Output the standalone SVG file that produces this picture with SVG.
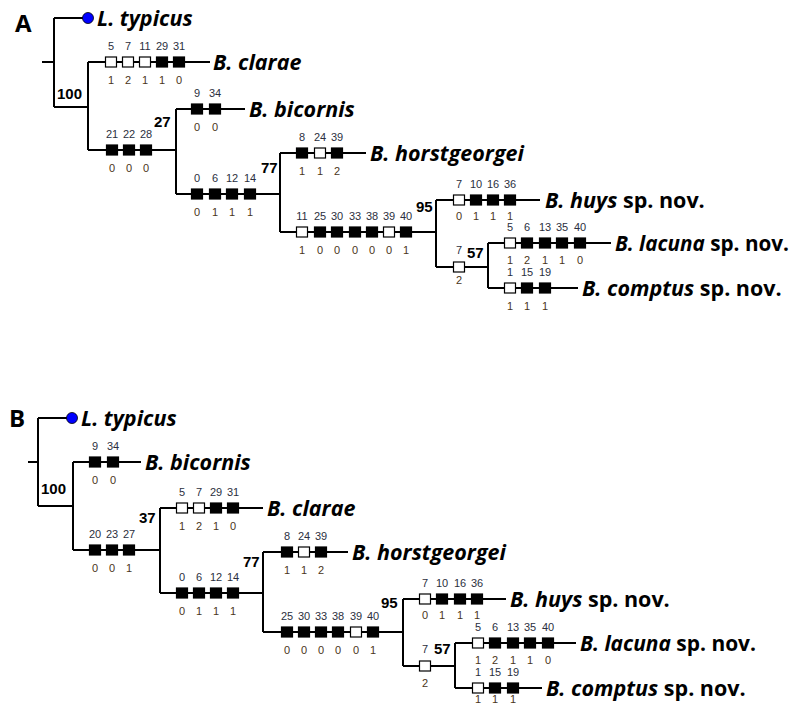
<svg xmlns="http://www.w3.org/2000/svg" width="793" height="704" viewBox="0 0 793 704">
<style>
.ln{stroke:#000;stroke-width:2;fill:none}
.o{fill:#fff;stroke:#000;stroke-width:1.2}
.f{fill:#000;stroke:#000;stroke-width:1.2}
.t{font-family:"Liberation Sans",Arial,sans-serif;font-size:11px;fill:#2b2f40;text-anchor:middle}
.b{font-family:"Liberation Sans",Arial,sans-serif;font-size:11px;fill:#4a3420;text-anchor:middle}
.sv{font-family:"Liberation Sans",Arial,sans-serif;font-size:15px;font-weight:bold;fill:#000}
.tx{font-family:"Open Sans","Noto Sans",sans-serif;font-size:21.5px;font-weight:bold;fill:#000}
.it{font-style:italic}
.pl{font-family:"Open Sans","Noto Sans",sans-serif;font-size:24px;font-weight:bold;fill:#000}
</style>
<rect width="793" height="704" fill="#fff"/>
<!-- ================= PANEL A ================= -->
<g id="panelA-label"><text class="pl" x="15" y="32">A</text></g>
<g id="connectors-A">
<path class="ln" d="M42 62H54M54 18V107M54 18H88M54 107H88M88 62V150M88 62H210M88 150H176M176 109V194M176 109H245M176 194H280M280 153V232M280 153H366M280 232H436M436 200V267M436 200H540M436 267H488M488 243V288M488 243H611M488 288H578"/>
</g>
<g id="A-typicus"><circle cx="88" cy="18" r="5.5" fill="#0000ff" stroke="#000" stroke-width="0.8"/><text class="tx" x="97" y="26"><tspan class="it">L. typicus</tspan></text></g>
<g id="A-root-support"><text class="sv" x="57" y="99">100</text></g>
<g id="A-clarae">
<rect class="o" x="105.5" y="57" width="11" height="10"/><rect class="o" x="122.5" y="57" width="11" height="10"/><rect class="o" x="139.5" y="57" width="11" height="10"/><rect class="f" x="156.5" y="57" width="11" height="10"/><rect class="f" x="173.5" y="57" width="11" height="10"/>
<text class="t" y="50"><tspan x="111">5</tspan><tspan x="128">7</tspan><tspan x="145">11</tspan><tspan x="162">29</tspan><tspan x="179">31</tspan></text>
<text class="b" y="84"><tspan x="111">1</tspan><tspan x="128">2</tspan><tspan x="145">1</tspan><tspan x="162">1</tspan><tspan x="179">0</tspan></text>
<text class="tx" x="213" y="70"><tspan class="it">B. clarae</tspan></text>
</g>
<g id="A-node27">
<rect class="f" x="106.5" y="145" width="11" height="10"/><rect class="f" x="123.5" y="145" width="11" height="10"/><rect class="f" x="140.5" y="145" width="11" height="10"/>
<text class="t" y="138"><tspan x="112">21</tspan><tspan x="129">22</tspan><tspan x="146">28</tspan></text>
<text class="b" y="172"><tspan x="112">0</tspan><tspan x="129">0</tspan><tspan x="146">0</tspan></text>
<text class="sv" x="154" y="127">27</text>
</g>
<g id="A-bicornis">
<rect class="f" x="191.5" y="104" width="11" height="10"/><rect class="f" x="209.5" y="104" width="11" height="10"/>
<text class="t" y="97"><tspan x="197">9</tspan><tspan x="215">34</tspan></text>
<text class="b" y="131"><tspan x="197">0</tspan><tspan x="215">0</tspan></text>
<text class="tx" x="249" y="117"><tspan class="it">B. bicornis</tspan></text>
</g>
<g id="A-node77">
<rect class="f" x="191.5" y="189" width="11" height="10"/><rect class="f" x="209.5" y="189" width="11" height="10"/><rect class="f" x="226.5" y="189" width="11" height="10"/><rect class="f" x="244.5" y="189" width="11" height="10"/>
<text class="t" y="182"><tspan x="197">0</tspan><tspan x="215">6</tspan><tspan x="232">12</tspan><tspan x="250">14</tspan></text>
<text class="b" y="216"><tspan x="197">0</tspan><tspan x="215">1</tspan><tspan x="232">1</tspan><tspan x="250">1</tspan></text>
<text class="sv" x="261" y="173">77</text>
</g>
<g id="A-horstgeorgei">
<rect class="f" x="296.5" y="148" width="11" height="10"/><rect class="o" x="314.5" y="148" width="11" height="10"/><rect class="f" x="331.5" y="148" width="11" height="10"/>
<text class="t" y="141"><tspan x="302">8</tspan><tspan x="320">24</tspan><tspan x="337">39</tspan></text>
<text class="b" y="175"><tspan x="302">1</tspan><tspan x="320">1</tspan><tspan x="337">2</tspan></text>
<text class="tx" x="370" y="161"><tspan class="it">B. horstgeorgei</tspan></text>
</g>
<g id="A-node95">
<rect class="o" x="296.5" y="227" width="11" height="10"/><rect class="f" x="314.5" y="227" width="11" height="10"/><rect class="f" x="331.5" y="227" width="11" height="10"/><rect class="f" x="349.5" y="227" width="11" height="10"/><rect class="f" x="366.5" y="227" width="11" height="10"/><rect class="o" x="383.5" y="227" width="11" height="10"/><rect class="f" x="400.5" y="227" width="11" height="10"/>
<text class="t" y="220"><tspan x="302">11</tspan><tspan x="320">25</tspan><tspan x="337">30</tspan><tspan x="355">33</tspan><tspan x="372">38</tspan><tspan x="389">39</tspan><tspan x="406">40</tspan></text>
<text class="b" y="254"><tspan x="302">1</tspan><tspan x="320">0</tspan><tspan x="337">0</tspan><tspan x="355">0</tspan><tspan x="372">0</tspan><tspan x="389">0</tspan><tspan x="406">1</tspan></text>
<text class="sv" x="416" y="212">95</text>
</g>
<g id="A-huys">
<rect class="o" x="453.5" y="195" width="11" height="10"/><rect class="f" x="470.5" y="195" width="11" height="10"/><rect class="f" x="487.5" y="195" width="11" height="10"/><rect class="f" x="504.5" y="195" width="11" height="10"/>
<text class="t" y="188"><tspan x="459">7</tspan><tspan x="476">10</tspan><tspan x="493">16</tspan><tspan x="510">36</tspan></text>
<text class="b" y="220"><tspan x="459">0</tspan><tspan x="476">1</tspan><tspan x="493">1</tspan><tspan x="510">1</tspan></text>
<text class="tx" x="545" y="208"><tspan class="it">B. huys</tspan> sp. nov.</text>
</g>
<g id="A-node57">
<rect class="o" x="453.5" y="262" width="11" height="10"/>
<text class="t" x="459" y="254">7</text>
<text class="b" x="459" y="284">2</text>
<text class="sv" x="467" y="258">57</text>
</g>
<g id="A-lacuna">
<rect class="o" x="504.5" y="238" width="11" height="10"/><rect class="f" x="521.5" y="238" width="11" height="10"/><rect class="f" x="539.5" y="238" width="11" height="10"/><rect class="f" x="556.5" y="238" width="11" height="10"/><rect class="f" x="574.5" y="238" width="11" height="10"/>
<text class="t" y="231"><tspan x="510">5</tspan><tspan x="527">6</tspan><tspan x="545">13</tspan><tspan x="562">35</tspan><tspan x="580">40</tspan></text>
<text class="b" y="264"><tspan x="510">1</tspan><tspan x="527">2</tspan><tspan x="545">1</tspan><tspan x="562">1</tspan><tspan x="580">0</tspan></text>
<text class="tx" x="615" y="251" textLength="174" lengthAdjust="spacingAndGlyphs"><tspan class="it">B. lacuna</tspan> sp. nov.</text>
</g>
<g id="A-comptus">
<rect class="o" x="504.5" y="283" width="11" height="10"/><rect class="f" x="521.5" y="283" width="11" height="10"/><rect class="f" x="539.5" y="283" width="11" height="10"/>
<text class="t" y="276"><tspan x="510">1</tspan><tspan x="527">15</tspan><tspan x="545">19</tspan></text>
<text class="b" y="310"><tspan x="510">1</tspan><tspan x="527">1</tspan><tspan x="545">1</tspan></text>
<text class="tx" x="582" y="296"><tspan class="it">B. comptus</tspan> sp. nov.</text>
</g>
<!-- ================= PANEL B ================= -->
<g id="panelB-label"><text class="pl" x="9" y="427">B</text></g>
<g id="connectors-B">
<path class="ln" d="M28 462H38M38 418V506M38 418H72M38 506H73M73 462V550M73 462H141M73 550H160M160 508V593M160 508H263M160 593H263M263 552V632M263 552H348M263 632H403M403 599V666M403 599H506M403 666H455M455 643V688M455 643H576M455 688H542"/>
</g>
<g id="B-typicus"><circle cx="72" cy="418" r="5.5" fill="#0000ff" stroke="#000" stroke-width="0.8"/><text class="tx" x="81" y="426"><tspan class="it">L. typicus</tspan></text></g>
<g id="B-root-support"><text class="sv" x="41" y="494">100</text></g>
<g id="B-bicornis">
<rect class="f" x="89.5" y="457" width="11" height="10"/><rect class="f" x="107.5" y="457" width="11" height="10"/>
<text class="t" y="450"><tspan x="95">9</tspan><tspan x="113">34</tspan></text>
<text class="b" y="484"><tspan x="95">0</tspan><tspan x="113">0</tspan></text>
<text class="tx" x="145" y="470"><tspan class="it">B. bicornis</tspan></text>
</g>
<g id="B-node37">
<rect class="f" x="89.5" y="545" width="11" height="10"/><rect class="f" x="106.5" y="545" width="11" height="10"/><rect class="f" x="123.5" y="545" width="11" height="10"/>
<text class="t" y="538"><tspan x="95">20</tspan><tspan x="112">23</tspan><tspan x="129">27</tspan></text>
<text class="b" y="572"><tspan x="95">0</tspan><tspan x="112">0</tspan><tspan x="129">1</tspan></text>
<text class="sv" x="139" y="523">37</text>
</g>
<g id="B-clarae">
<rect class="o" x="176.5" y="503" width="11" height="10"/><rect class="o" x="193.5" y="503" width="11" height="10"/><rect class="f" x="210.5" y="503" width="11" height="10"/><rect class="f" x="227.5" y="503" width="11" height="10"/>
<text class="t" y="496"><tspan x="182">5</tspan><tspan x="199">7</tspan><tspan x="216">29</tspan><tspan x="233">31</tspan></text>
<text class="b" y="530"><tspan x="182">1</tspan><tspan x="199">2</tspan><tspan x="216">1</tspan><tspan x="233">0</tspan></text>
<text class="tx" x="267" y="516"><tspan class="it">B. clarae</tspan></text>
</g>
<g id="B-node77">
<rect class="f" x="176.5" y="588" width="11" height="10"/><rect class="f" x="193.5" y="588" width="11" height="10"/><rect class="f" x="210.5" y="588" width="11" height="10"/><rect class="f" x="227.5" y="588" width="11" height="10"/>
<text class="t" y="581"><tspan x="182">0</tspan><tspan x="199">6</tspan><tspan x="216">12</tspan><tspan x="233">14</tspan></text>
<text class="b" y="615"><tspan x="182">0</tspan><tspan x="199">1</tspan><tspan x="216">1</tspan><tspan x="233">1</tspan></text>
<text class="sv" x="243" y="567">77</text>
</g>
<g id="B-horstgeorgei">
<rect class="f" x="281.5" y="547" width="11" height="10"/><rect class="o" x="298.5" y="547" width="11" height="10"/><rect class="f" x="315.5" y="547" width="11" height="10"/>
<text class="t" y="540"><tspan x="287">8</tspan><tspan x="304">24</tspan><tspan x="321">39</tspan></text>
<text class="b" y="574"><tspan x="287">1</tspan><tspan x="304">1</tspan><tspan x="321">2</tspan></text>
<text class="tx" x="352" y="560"><tspan class="it">B. horstgeorgei</tspan></text>
</g>
<g id="B-node95">
<rect class="f" x="281.5" y="627" width="11" height="10"/><rect class="f" x="298.5" y="627" width="11" height="10"/><rect class="f" x="315.5" y="627" width="11" height="10"/><rect class="f" x="332.5" y="627" width="11" height="10"/><rect class="o" x="350.5" y="627" width="11" height="10"/><rect class="f" x="367.5" y="627" width="11" height="10"/>
<text class="t" y="620"><tspan x="287">25</tspan><tspan x="304">30</tspan><tspan x="321">33</tspan><tspan x="338">38</tspan><tspan x="356">39</tspan><tspan x="373">40</tspan></text>
<text class="b" y="654"><tspan x="287">0</tspan><tspan x="304">0</tspan><tspan x="321">0</tspan><tspan x="338">0</tspan><tspan x="356">0</tspan><tspan x="373">1</tspan></text>
<text class="sv" x="381" y="608">95</text>
</g>
<g id="B-huys">
<rect class="o" x="419.5" y="594" width="11" height="10"/><rect class="f" x="436.5" y="594" width="11" height="10"/><rect class="f" x="454.5" y="594" width="11" height="10"/><rect class="f" x="471.5" y="594" width="11" height="10"/>
<text class="t" y="587"><tspan x="425">7</tspan><tspan x="442">10</tspan><tspan x="460">16</tspan><tspan x="477">36</tspan></text>
<text class="b" y="619"><tspan x="425">0</tspan><tspan x="442">1</tspan><tspan x="460">1</tspan><tspan x="477">1</tspan></text>
<text class="tx" x="510" y="607"><tspan class="it">B. huys</tspan> sp. nov.</text>
</g>
<g id="B-node57">
<rect class="o" x="419.5" y="661" width="11" height="10"/>
<text class="t" x="425" y="653">7</text>
<text class="b" x="425" y="687">2</text>
<text class="sv" x="434" y="654">57</text>
</g>
<g id="B-lacuna">
<rect class="o" x="472.5" y="638" width="11" height="10"/><rect class="f" x="489.5" y="638" width="11" height="10"/><rect class="f" x="507.5" y="638" width="11" height="10"/><rect class="f" x="524.5" y="638" width="11" height="10"/><rect class="f" x="542.5" y="638" width="11" height="10"/>
<text class="t" y="631"><tspan x="478">5</tspan><tspan x="495">6</tspan><tspan x="513">13</tspan><tspan x="530">35</tspan><tspan x="548">40</tspan></text>
<text class="b" y="664"><tspan x="478">1</tspan><tspan x="495">2</tspan><tspan x="513">1</tspan><tspan x="530">1</tspan><tspan x="548">0</tspan></text>
<text class="tx" x="580" y="651" textLength="176" lengthAdjust="spacingAndGlyphs"><tspan class="it">B. lacuna</tspan> sp. nov.</text>
</g>
<g id="B-comptus">
<rect class="o" x="472.5" y="683" width="11" height="10"/><rect class="f" x="489.5" y="683" width="11" height="10"/><rect class="f" x="507.5" y="683" width="11" height="10"/>
<text class="t" y="676"><tspan x="478">1</tspan><tspan x="495">15</tspan><tspan x="513">19</tspan></text>
<text class="b" y="703"><tspan x="478">1</tspan><tspan x="495">1</tspan><tspan x="513">1</tspan></text>
<text class="tx" x="546" y="696"><tspan class="it">B. comptus</tspan> sp. nov.</text>
</g>
</svg>
